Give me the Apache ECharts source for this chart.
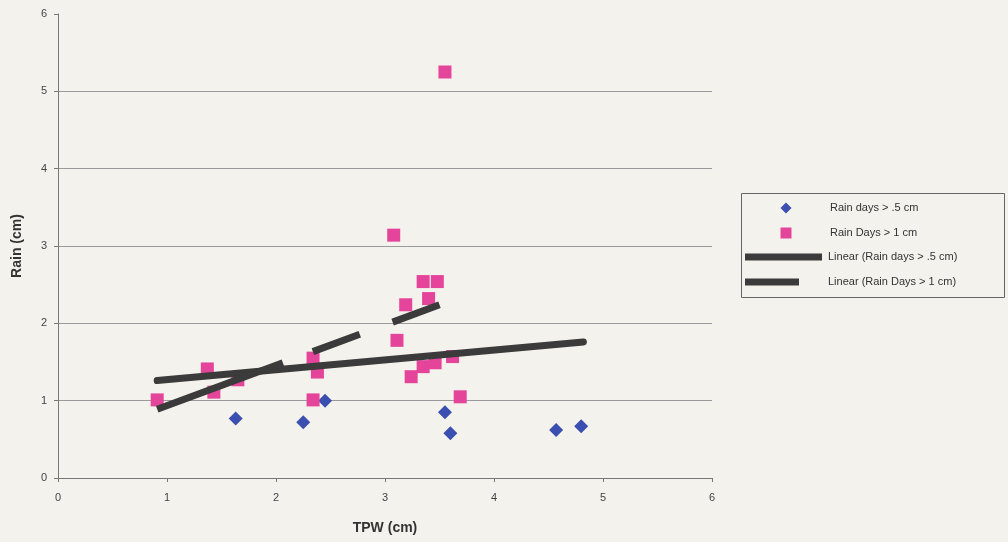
<!DOCTYPE html>
<html>
<head>
<meta charset="utf-8">
<script src="https://cdn.jsdelivr.net/npm/echarts@6/dist/echarts.min.js"></script>
<style>
  html, body { margin: 0; padding: 0; background: #f4f2ec; }
  #chart { width: 1008px; height: 542px; }
</style>
</head>
<body>
<div id="chart"></div>
<script>
// Rain days > .5 cm
const tpwHalf  = [1.63, 2.25, 2.45, 3.55, 3.60, 4.57, 4.80];
const rainHalf = [0.77, 0.72, 1.00, 0.85, 0.58, 0.62, 0.67];

// Rain Days > 1 cm
const tpwOne  = [0.91, 1.37, 1.43, 1.65, 2.34, 2.38, 2.34, 3.08, 3.11, 3.19, 3.24, 3.35, 3.35, 3.40, 3.46, 3.48, 3.55, 3.62, 3.69];
const rainOne = [1.01, 1.41, 1.11, 1.27, 1.55, 1.37, 1.01, 3.14, 1.78, 2.24, 1.31, 2.54, 1.44, 2.32, 1.49, 2.54, 5.25, 1.57, 1.05];

// Linear trend end points
const trendHalfX = [0.91, 4.82];
const trendHalfY = [1.26, 1.76];
const trendOneX  = [0.91, 3.50];
const trendOneY  = [0.89, 2.24];

// Axis ticks
const xTicks = [0, 1, 2, 3, 4, 5, 6];
const yTicks = [0, 1, 2, 3, 4, 5, 6];

const names = ['Rain days > .5 cm', 'Rain Days > 1 cm', 'Linear (Rain days > .5 cm)', 'Linear (Rain Days > 1 cm)'];

const zip = (xs, ys) => xs.map((x, i) => [x, ys[i]]);

const blue = '#3a4fb0';
const pink = '#e4449a';
const trendColor = '#3b3b3b';
const labelFont = { fontFamily: 'Liberation Sans, Arial, sans-serif', fontSize: 11, color: '#444' };

const chart = echarts.init(document.getElementById('chart'), null, { renderer: 'canvas' });

// Legend icons are paths whose bounding box spans the whole 78 x 12 slot,
// so the marker keeps its own size and the text lines up in one column.
const iconDiamond = 'path://M39,0.5L44.5,6L39,11.5L33.5,6Z M0,0 M78,12';
const iconSquare  = 'path://M33.5,0.5H44.5V11.5H33.5Z M0,0 M78,12';
const iconLong    = 'path://M0,2.5H77V9.5H0Z M0,0 M78,12';
const iconShort   = 'path://M0,2.5H54V9.5H0Z M0,0 M78,12';

function legendAt(name, left, top, icon, color) {
  return {
    data: [{ name: name, icon: icon, itemStyle: { color: color, borderWidth: 0 } }],
    left: left, top: top,
    itemWidth: 78, itemHeight: 12,
    padding: 0,
    selectedMode: false,
    textStyle: { fontFamily: 'Liberation Sans, Arial, sans-serif', fontSize: 11, color: '#333' }
  };
}

chart.setOption({
  backgroundColor: '#f4f2ec',
  animation: false,
  grid: { left: 58, right: 296, top: 14, bottom: 64, containLabel: false, outerBoundsMode: 'none' },
  xAxis: {
    type: 'value',
    min: xTicks[0], max: xTicks[xTicks.length - 1], interval: 1,
    name: 'TPW (cm)',
    nameLocation: 'middle',
    nameGap: 43,
    nameTextStyle: { fontFamily: 'Liberation Sans, Arial, sans-serif', fontSize: 14, fontWeight: 'bold', color: '#333' },
    axisLine: { show: true, lineStyle: { color: '#777', width: 1 } },
    axisTick: { show: true, length: 4, lineStyle: { color: '#777' } },
    axisLabel: Object.assign({ margin: 14 }, labelFont),
    splitLine: { show: false }
  },
  yAxis: {
    type: 'value',
    min: yTicks[0], max: yTicks[yTicks.length - 1], interval: 1,
    name: 'Rain (cm)',
    nameLocation: 'middle',
    nameGap: 34,
    nameTextStyle: { fontFamily: 'Liberation Sans, Arial, sans-serif', fontSize: 14, fontWeight: 'bold', color: '#333' },
    axisLine: { show: true, lineStyle: { color: '#777', width: 1 } },
    axisTick: { show: true, length: 4, lineStyle: { color: '#777' } },
    axisLabel: Object.assign({ margin: 11 }, labelFont),
    splitLine: { show: true, showMaxLine: false, lineStyle: { color: '#9a9a9a', width: 1 } }
  },
  legend: [
    legendAt(names[0], 747, 202, iconDiamond, blue),
    legendAt(names[1], 747, 227, iconSquare, pink),
    legendAt(names[2], 745, 251, iconLong, trendColor),
    legendAt(names[3], 745, 276, iconShort, trendColor)
  ],
  graphic: [{
    type: 'rect',
    shape: { x: 741.5, y: 193.5, width: 263, height: 104 },
    style: { fill: 'rgba(0,0,0,0)', stroke: '#666', lineWidth: 1 },
    z: 0
  }],
  series: [
    {
      name: names[0],
      type: 'scatter',
      symbol: 'diamond',
      symbolSize: 14,
      itemStyle: { color: blue, opacity: 1 },
      data: zip(tpwHalf, rainHalf),
      z: 2
    },
    {
      name: names[1],
      type: 'scatter',
      symbol: 'rect',
      symbolSize: 13,
      itemStyle: { color: pink, opacity: 1 },
      data: zip(tpwOne, rainOne),
      z: 2
    },
    {
      name: names[2],
      type: 'line',
      symbol: 'none',
      itemStyle: { color: trendColor },
      lineStyle: { color: trendColor, width: 7, cap: 'round' },
      data: zip(trendHalfX, trendHalfY),
      z: 3
    },
    {
      name: names[3],
      type: 'line',
      symbol: 'none',
      itemStyle: { color: trendColor },
      lineStyle: { color: trendColor, width: 7, type: [134, 32, 50, 35, 50] },
      data: zip(trendOneX, trendOneY),
      z: 3
    }
  ]
});
</script>
</body>
</html>
